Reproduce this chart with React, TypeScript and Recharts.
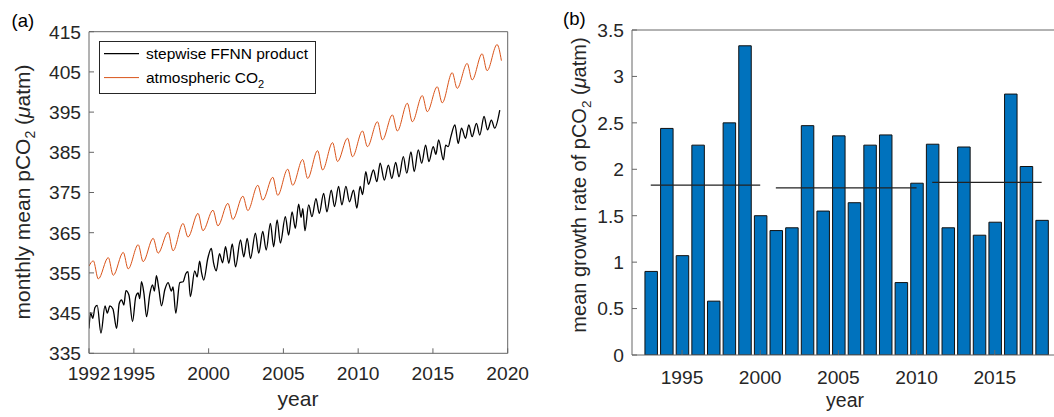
import React from 'react'
import { ComposedChart, LineChart, Line, Bar, XAxis, YAxis, Legend } from 'recharts'

const FONT = '"Liberation Sans", Arial, Helvetica, sans-serif'
const INK = '#262626'
const AXIS = '#666666'
const RED = '#D95319'
const BLUE = '#0072BD'

// (a) atmospheric CO2: seasonal peaks and troughs
const atmTime = [
  1992.0, 1992.29, 1992.62, 1993.29, 1993.62, 1994.29, 1994.62, 1995.29, 1995.62,
  1996.29, 1996.62, 1997.29, 1997.62, 1998.29, 1998.62, 1999.29, 1999.62,
  2000.29, 2000.62, 2001.29, 2001.62, 2002.29, 2002.62, 2003.29, 2003.62,
  2004.29, 2004.62, 2005.29, 2005.62, 2006.29, 2006.62, 2007.29, 2007.62,
  2008.29, 2008.62, 2009.29, 2009.62, 2010.29, 2010.62, 2011.29, 2011.62,
  2012.29, 2012.62, 2013.29, 2013.62, 2014.29, 2014.62, 2015.29, 2015.62,
  2016.29, 2016.62, 2017.29, 2017.62, 2018.29, 2018.62, 2019.29, 2019.58,
]
const atmValue = [
  356.7, 358.0, 353.5, 358.8, 354.4, 360.1, 356.0, 362.0, 357.8,
  363.6, 359.9, 365.1, 360.5, 367.3, 363.9, 369.8, 365.5,
  370.6, 366.7, 372.3, 368.3, 374.1, 370.5, 376.8, 373.1,
  378.8, 374.3, 380.8, 376.8, 383.2, 378.5, 385.4, 380.6,
  387.4, 382.7, 388.5, 383.9, 390.3, 386.4, 392.6, 388.1,
  394.3, 390.3, 397.2, 392.6, 399.1, 395.1, 401.3, 397.3,
  404.8, 400.9, 407.1, 403.0, 409.5, 405.3, 411.8, 407.8,
]

// (a) stepwise FFNN product: turning points of the noisy curve
const ffnnTime = [
  1992.0, 1992.11, 1992.25, 1992.4, 1992.55, 1992.8, 1993.07, 1993.22, 1993.4, 1993.6, 1993.85,
  1994.02, 1994.18, 1994.33, 1994.47, 1994.67, 1994.91, 1995.13, 1995.29, 1995.39, 1995.51,
  1995.67, 1995.85, 1996.07, 1996.25, 1996.37, 1996.51, 1996.67, 1996.85, 1997.07, 1997.29,
  1997.51, 1997.62, 1997.8, 1998.07, 1998.29, 1998.47, 1998.62, 1998.78, 1999.07, 1999.23,
  1999.4, 1999.53, 1999.67, 1999.95, 2000.18, 2000.33, 2000.51, 2000.73, 2000.93, 2001.13,
  2001.35, 2001.58, 2001.8, 2002.13, 2002.35, 2002.58, 2002.8, 2003.13, 2003.35, 2003.62,
  2003.85, 2004.13, 2004.35, 2004.58, 2004.8, 2005.13, 2005.35, 2005.58, 2005.8, 2006.02,
  2006.18, 2006.3, 2006.44, 2006.69, 2006.91, 2007.18, 2007.4, 2007.69, 2007.91, 2008.2,
  2008.42, 2008.69, 2008.91, 2009.18, 2009.42, 2009.69, 2009.91, 2010.13, 2010.3, 2010.51,
  2010.69, 2011.02, 2011.25, 2011.47, 2011.75, 2012.02, 2012.25, 2012.51, 2012.73, 2013.02,
  2013.25, 2013.53, 2013.75, 2014.02, 2014.25, 2014.51, 2014.73, 2015.02, 2015.2, 2015.38,
  2015.7, 2015.85, 2016.02, 2016.2, 2016.47, 2016.69, 2016.91, 2017.18, 2017.4, 2017.62,
  2017.91, 2018.13, 2018.42, 2018.65, 2018.91, 2019.13, 2019.47,
]
const ffnnValue = [
  341.2, 345.1, 343.7, 346.4, 346.9, 340.0, 346.8, 345.0, 346.8, 346.0, 341.2,
  347.4, 348.3, 347.0, 350.6, 349.5, 342.9, 349.1, 350.0, 348.6, 352.8,
  350.0, 344.1, 349.8, 352.0, 350.5, 354.3, 351.0, 346.8, 350.8, 352.6,
  350.5, 351.5, 345.0, 352.6, 352.8, 354.8, 355.3, 349.1, 355.5, 354.0,
  357.9, 355.0, 353.2, 358.7, 361.1, 357.5, 355.5, 359.8, 357.5, 361.5,
  357.4, 362.2, 356.5, 363.2, 359.0, 363.6, 358.6, 364.9, 359.9, 365.3,
  360.7, 367.3, 361.5, 368.2, 362.4, 369.0, 364.4, 370.2, 366.1, 372.1,
  368.8, 371.0, 365.5, 371.9, 369.0, 373.5, 369.8, 374.8, 370.2, 375.6,
  371.5, 376.5, 371.9, 376.5, 372.7, 375.6, 371.1, 376.5, 374.5, 380.2,
  377.0, 380.6, 377.7, 382.3, 378.1, 381.8, 378.5, 382.5, 378.9, 383.9,
  379.8, 385.1, 380.2, 385.6, 382.3, 386.8, 382.7, 386.4, 384.5, 388.1,
  383.1, 386.8, 386.4, 388.9, 391.8, 387.2, 391.0, 388.5, 391.8, 388.9,
  392.2, 389.3, 393.9, 390.6, 393.0, 391.0, 395.5,
]

const yearTicksA = [1992, 1995, 2000, 2005, 2010, 2015, 2020]
const pco2Ticks = [335, 345, 355, 365, 375, 385, 395, 405, 415]

// (b) annual mean growth rate
const growthYears = [
  1993, 1994, 1995, 1996, 1997, 1998, 1999, 2000, 2001, 2002, 2003, 2004, 2005,
  2006, 2007, 2008, 2009, 2010, 2011, 2012, 2013, 2014, 2015, 2016, 2017, 2018,
]
const growthRate = [
  0.9, 2.44, 1.07, 2.26, 0.58, 2.5, 3.33, 1.5, 1.34, 1.37, 2.47, 1.55, 2.36,
  1.64, 2.26, 2.37, 0.78, 1.85, 2.27, 1.37, 2.24, 1.29, 1.43, 2.81, 2.03, 1.45,
]
const periodStart = [1993, 2001, 2011]
const periodEnd = [2000, 2010, 2018]
const periodMean = [1.83, 1.8, 1.86]

const yearTicksB = [1995, 2000, 2005, 2010, 2015]
const rateTicks = [0, 0.5, 1, 1.5, 2, 2.5, 3, 3.5]

const atmData = atmTime.map((t, i) => ({ t, v: atmValue[i] }))
const ffnnData = ffnnTime.map((t, i) => ({ t, v: ffnnValue[i] }))
const barData = growthYears.map((year, i) => ({ year, rate: growthRate[i] }))
const periodData = periodStart.map((s, i) => [
  { year: s, mean: periodMean[i] },
  { year: periodEnd[i], mean: periodMean[i] },
])

const tickStyle = { fill: INK, fontSize: 19.2, fontFamily: FONT }

function LegendBox() {
  return (
    <svg width={217} height={53} style={{ display: 'block', fontFamily: FONT }}>
      <rect x={0.5} y={0.5} width={216} height={52} fill="#fff" stroke={INK} strokeWidth={1} />
      <line x1={5} x2={40} y1={12.6} y2={12.6} stroke="#000" strokeWidth={1.3} />
      <text x={47} y={18} fontSize={15.5} fill="#000">stepwise FFNN product</text>
      <line x1={5} x2={40} y1={36.6} y2={36.6} stroke={RED} strokeWidth={1} />
      <text x={47} y={41.5} fontSize={15.5} fill="#000">
        atmospheric CO<tspan dy={5} fontSize={11}>2</tspan>
      </text>
    </svg>
  )
}

const labelA = () => (
  <text x={11.5} y={26.5} fontSize={18.5} fontFamily={FONT} fill="#000">(a)</text>
)
const labelB = () => (
  <text x={33} y={25} fontSize={18.5} fontFamily={FONT} fill="#000">(b)</text>
)
const yearLabelA = () => (
  <text x={298} y={406} textAnchor="middle" fontSize={21} fontFamily={FONT} fill={INK}>year</text>
)
const yearLabelB = () => (
  <text x={315} y={407} textAnchor="middle" fontSize={19.5} fontFamily={FONT} fill={INK}>year</text>
)
const pco2Label = () => (
  <text transform="translate(29.5, 192) rotate(-90)" textAnchor="middle" fontSize={21} fontFamily={FONT} fill={INK}>
    monthly mean pCO<tspan dy={5} fontSize={14}>2</tspan>
    <tspan dy={-5}> (</tspan>
    <tspan fontStyle="italic">μ</tspan>atm)
  </text>
)
const rateLabel = () => (
  <text transform="translate(55.5, 185) rotate(-90)" textAnchor="middle" fontSize={20} fontFamily={FONT} fill={INK}>
    mean growth rate of pCO<tspan dy={5} fontSize={13.5}>2</tspan>
    <tspan dy={-5}> (</tspan>
    <tspan fontStyle="italic">μ</tspan>atm)
  </text>
)

export default function App() {
  return (
    <div style={{ position: 'absolute', left: 0, top: 0, width: 1054, height: 417, background: '#fff' }}>
      <div style={{ position: 'absolute', left: 0, top: 0 }}>
        <LineChart width={545} height={417} margin={{ top: 29.7, right: 36.3, bottom: 33.7, left: 0 }}>
          <XAxis
            xAxisId="b" dataKey="t" type="number" domain={[1992, 2020]} ticks={yearTicksA}
            interval={0} allowDataOverflow tickSize={-5} tickMargin={18} height={30}
            stroke={AXIS} tick={tickStyle} label={yearLabelA}
          />
          <XAxis
            xAxisId="top" orientation="top" dataKey="t" type="number" domain={[1992, 2020]}
            ticks={yearTicksA} interval={0} allowDataOverflow tickSize={-5} height={2}
            stroke={AXIS} tick={false} label={labelA}
          />
          <YAxis
            yAxisId="l" type="number" domain={[335, 415]} ticks={pco2Ticks} interval={0}
            allowDataOverflow tickSize={-5} tickMargin={13} width={89}
            stroke={AXIS} tick={tickStyle} label={pco2Label}
          />
          <YAxis
            yAxisId="r" orientation="right" type="number" domain={[335, 415]} ticks={pco2Ticks}
            interval={0} allowDataOverflow tickSize={-5} width={1} stroke={AXIS} tick={false}
          />
          <Line
            data={atmData} dataKey="v" xAxisId="b" yAxisId="l" type="monotone"
            stroke={RED} strokeWidth={1} dot={false} isAnimationActive={false}
          />
          <Line
            data={ffnnData} dataKey="v" xAxisId="b" yAxisId="l" type="monotone"
            stroke="#000" strokeWidth={1.3} dot={false} isAnimationActive={false}
          />
          <Legend
            layout="vertical" verticalAlign="middle" align="center" content={LegendBox}
            wrapperStyle={{ left: 99, top: 40.7, width: 217, height: 53 }}
          />
        </LineChart>
      </div>
      <div style={{ position: 'absolute', left: 530, top: 0 }}>
        <ComposedChart width={524} height={417} data={barData} margin={{ top: 28, right: 0, bottom: 32, left: 0 }}>
          <XAxis
            xAxisId="b" dataKey="year" type="number" domain={[1991.8, 2018.79]} ticks={yearTicksB}
            interval={0} allowDataOverflow tickSize={-5} tickMargin={20} height={30}
            stroke={AXIS} tick={tickStyle} label={yearLabelB}
          />
          <XAxis
            xAxisId="top" orientation="top" dataKey="year" type="number" domain={[1991.8, 2018.79]}
            ticks={yearTicksB} interval={0} allowDataOverflow tickSize={-5} height={2}
            stroke={AXIS} tick={false} label={labelB}
          />
          <YAxis
            yAxisId="l" type="number" domain={[0, 3.5]} ticks={rateTicks} interval={0}
            allowDataOverflow tickSize={-5} tickMargin={13} width={102}
            stroke={AXIS} tick={tickStyle} label={rateLabel}
          />
          <Bar
            dataKey="rate" xAxisId="b" yAxisId="l" barSize={12.5} fill={BLUE}
            stroke="#111" strokeWidth={1} isAnimationActive={false}
          />
          {periodData.map((d, i) => (
            <Line
              key={i} data={d} dataKey="mean" xAxisId="b" yAxisId="l" type="linear"
              stroke="#222" strokeWidth={1.3} dot={false} isAnimationActive={false}
            />
          ))}
        </ComposedChart>
      </div>
    </div>
  )
}
